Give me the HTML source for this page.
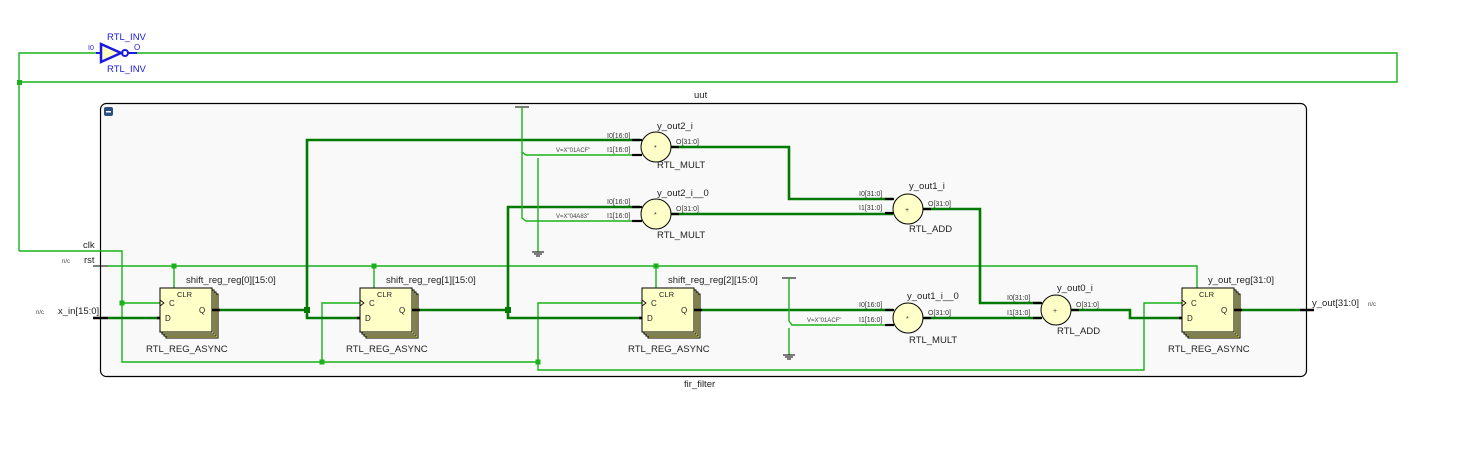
<!DOCTYPE html>
<html><head><style>
html,body{margin:0;padding:0;background:#fff;}
svg{display:block;font-family:"Liberation Sans","DejaVu Sans",sans-serif;}
.t{font-size:9.5px;fill:#222;}
.s{font-size:7px;fill:#333;}
.xs{font-size:6px;fill:#444;}
.g{stroke:#19b219;stroke-width:1.4;fill:none;}
.b{stroke:#007a00;stroke-width:2.6;fill:none;}
.c{fill:#ffffc8;stroke:#000;stroke-width:1;}
</style></head><body>
<svg width="1470" height="474" viewBox="0 0 1470 474" xmlns="http://www.w3.org/2000/svg">
<polyline class="g" points="19,251 19,53 100,53"/>
<polyline class="g" points="135,53 1397,53 1397,82 19,82"/>
<rect x="17" y="80" width="5" height="5" fill="#19b219"/>
<polygon points="101,44 101,62 121,53" fill="#ffffc0" stroke="#1a1ae0" stroke-width="2.5"/>
<circle cx="125" cy="53" r="3" fill="none" stroke="#1a1ae0" stroke-width="2"/>
<line x1="96" y1="53" x2="101" y2="53" stroke="#1a1ae0" stroke-width="2"/>
<line x1="128" y1="53" x2="137" y2="53" stroke="#1a1ae0" stroke-width="2"/>
<text x="107" y="40" font-size="9.5" fill="#1a1ae0">RTL_INV</text>
<text x="107" y="72" font-size="9.5" fill="#1a1ae0">RTL_INV</text>
<text x="88" y="50" font-size="7" fill="#1a1ae0">I0</text>
<text x="134" y="50" font-size="8" fill="#1a1ae0">O</text>
<rect x="100.5" y="103.5" width="1206" height="273" rx="6" fill="#f9f9f9" stroke="#000" stroke-width="1.2"/>
<rect x="104" y="107" width="9" height="9" rx="2" fill="#2d4f80"/>
<rect x="106" y="111" width="5" height="1.5" fill="#fff"/>
<text class="t" x="694" y="98">uut</text>
<text class="t" x="684" y="387">fir_filter</text>
<text class="t" x="83" y="248" font-size="8">clk</text>
<text class="t" x="84" y="263" font-size="8">rst</text>
<text class="xs" x="62" y="263">n/c</text>
<text class="t" x="58" y="314" font-size="8">x_in[15:0]</text>
<text class="xs" x="36" y="314">n/c</text>
<line x1="93" y1="251" x2="108" y2="251" stroke="#000" stroke-width="1"/>
<line x1="93" y1="266" x2="108" y2="266" stroke="#000" stroke-width="1"/>
<line x1="93" y1="318" x2="108" y2="318" stroke="#000" stroke-width="2.5"/>
<line x1="1300" y1="310" x2="1314" y2="310" stroke="#000" stroke-width="2.5"/>
<text class="t" x="1312" y="306" font-size="8">y_out[31:0]</text>
<text class="xs" x="1368" y="306">n/c</text>
<polyline class="g" points="19,251 122,251 122,362 538,362"/>
<polyline class="g" points="122,303 160,303"/>
<polyline class="g" points="322,362 322,303 360,303"/>
<polyline class="g" points="538,362 538,303 642,303"/>
<polyline class="g" points="538,362 538,370 1144,370 1144,303 1182,303"/>
<rect x="119.5" y="300.5" width="5" height="5" fill="#19b219"/>
<rect x="319.5" y="359.5" width="5" height="5" fill="#19b219"/>
<rect x="535.5" y="359.5" width="5" height="5" fill="#19b219"/>
<polyline class="g" points="108,266 1197,266 1197,288"/>
<line class="g" x1="174" y1="266" x2="174" y2="288"/>
<line class="g" x1="374" y1="266" x2="374" y2="288"/>
<line class="g" x1="656" y1="266" x2="656" y2="288"/>
<rect x="171.5" y="263.5" width="5" height="5" fill="#19b219"/>
<rect x="371.5" y="263.5" width="5" height="5" fill="#19b219"/>
<rect x="653.5" y="263.5" width="5" height="5" fill="#19b219"/>
<line class="b" x1="108" y1="318" x2="160" y2="318"/>
<polyline class="b" points="212,310 307,310"/>
<polyline class="b" points="640,140 307,140 307,318 360,318"/>
<polyline class="b" points="412,310 508,310"/>
<polyline class="b" points="640,207 508,207 508,318 642,318"/>
<rect x="304" y="307" width="6" height="6" fill="#007a00"/>
<rect x="505" y="307" width="6" height="6" fill="#007a00"/>
<polyline class="b" points="694,310 893,310"/>
<polyline class="b" points="671,147 789,147 789,199 893,199"/>
<polyline class="b" points="671,214 893,214"/>
<polyline class="b" points="923,209 980,209 980,303 1041,303"/>
<polyline class="b" points="923,318 1041,318"/>
<polyline class="b" points="1071,310 1130,310 1130,318 1182,318"/>
<polyline class="b" points="1234,310 1300,310"/>
<line x1="515" y1="107" x2="529" y2="107" stroke="#000" stroke-width="1"/>
<polyline class="g" points="522,107 522,152 526,155 640,155"/>
<polyline class="g" points="522,152 522,218 526,221 640,221"/>
<polyline class="g" points="538,158 538,252"/>
<line x1="532" y1="252" x2="544" y2="252" stroke="#000"/><line x1="534" y1="254" x2="542" y2="254" stroke="#000"/><line x1="536" y1="256" x2="540" y2="256" stroke="#000"/>
<text class="xs" x="556" y="152">V=X"01ACF"</text>
<text class="xs" x="556" y="218">V=X"04A83"</text>
<line x1="782" y1="278" x2="796" y2="278" stroke="#000" stroke-width="1"/>
<polyline class="g" points="789,278 789,321 792,325 893,325"/>
<polyline class="g" points="789,328 789,355"/>
<line x1="783" y1="355" x2="795" y2="355" stroke="#000"/><line x1="785" y1="357" x2="793" y2="357" stroke="#000"/><line x1="787" y1="359" x2="791" y2="359" stroke="#000"/>
<text class="xs" x="807" y="322">V=X"01ACF"</text>
<g stroke="#000" stroke-width="2.2">
<line x1="632" y1="140" x2="642" y2="140"/><line x1="632" y1="155" x2="642" y2="155"/><line x1="671" y1="147" x2="679" y2="147"/>
<line x1="632" y1="207" x2="642" y2="207"/><line x1="632" y1="221" x2="642" y2="221"/><line x1="671" y1="214" x2="679" y2="214"/>
<line x1="885" y1="199" x2="894" y2="199"/><line x1="885" y1="213" x2="894" y2="213"/><line x1="923" y1="209" x2="931" y2="209"/>
<line x1="885" y1="310" x2="894" y2="310"/><line x1="885" y1="325" x2="894" y2="325"/><line x1="923" y1="318" x2="931" y2="318"/>
<line x1="1033" y1="303" x2="1042" y2="303"/><line x1="1033" y1="318" x2="1042" y2="318"/><line x1="1071" y1="310" x2="1079" y2="310"/>
</g>
<circle class="c" cx="656" cy="147" r="15"/><text class="s" x="654" y="150">*</text>
<circle class="c" cx="656" cy="214" r="15"/><text class="s" x="654" y="217">*</text>
<circle class="c" cx="908" cy="209" r="15"/><text class="s" x="905" y="212">+</text>
<circle class="c" cx="908" cy="318" r="15"/><text class="s" x="906" y="321">*</text>
<circle class="c" cx="1056" cy="310" r="15"/><text class="s" x="1053" y="313">+</text>
<text class="t" x="657" y="129">y_out2_i</text>
<text class="s" x="607" y="138">I0[16:0]</text><text class="s" x="607" y="152">I1[16:0]</text><text class="s" x="676" y="144">O[31:0]</text>
<text class="t" x="657" y="168">RTL_MULT</text>
<text class="t" x="657" y="196">y_out2_i__0</text>
<text class="s" x="607" y="204">I0[16:0]</text><text class="s" x="607" y="218">I1[16:0]</text><text class="s" x="676" y="211">O[31:0]</text>
<text class="t" x="657" y="238">RTL_MULT</text>
<text class="t" x="909" y="189">y_out1_i</text>
<text class="s" x="859" y="196">I0[31:0]</text><text class="s" x="859" y="210">I1[31:0]</text><text class="s" x="928" y="206">O[31:0]</text>
<text class="t" x="909" y="232">RTL_ADD</text>
<text class="t" x="907" y="299">y_out1_i__0</text>
<text class="s" x="859" y="307">I0[16:0]</text><text class="s" x="859" y="322">I1[16:0]</text><text class="s" x="928" y="315">O[31:0]</text>
<text class="t" x="909" y="343">RTL_MULT</text>
<text class="t" x="1057" y="291">y_out0_i</text>
<text class="s" x="1007" y="300">I0[31:0]</text><text class="s" x="1007" y="315">I1[31:0]</text><text class="s" x="1076" y="307">O[31:0]</text>
<text class="t" x="1057" y="334">RTL_ADD</text>

<g transform="translate(160,288)">
<rect x="6" y="6" width="52" height="44" fill="#ffff80" stroke="#000" stroke-width="1"/>
<rect x="4" y="4" width="52" height="44" fill="#ffffa0" stroke="#000" stroke-width="1"/>
<rect x="2" y="2" width="52" height="44" fill="#ffffb0" stroke="#000" stroke-width="1"/>
<rect x="0" y="0" width="52" height="44" fill="#ffffc8" stroke="#000" stroke-width="1"/>
<polyline points="0,12 4,15 0,18" fill="none" stroke="#000" stroke-width="0.8"/>
<text x="17" y="9" font-size="7.5" fill="#222">CLR</text><text x="9" y="18" font-size="8" fill="#222">C</text>
<text x="5" y="33" font-size="8" fill="#222">D</text><text x="39" y="25" font-size="8" fill="#222">Q</text>
<line x1="-3" y1="30" x2="0" y2="30" stroke="#000" stroke-width="2.5"/><line x1="52" y1="22" x2="60" y2="22" stroke="#000" stroke-width="2.5"/>
</g>
<g transform="translate(360,288)">
<rect x="6" y="6" width="52" height="44" fill="#ffff80" stroke="#000" stroke-width="1"/>
<rect x="4" y="4" width="52" height="44" fill="#ffffa0" stroke="#000" stroke-width="1"/>
<rect x="2" y="2" width="52" height="44" fill="#ffffb0" stroke="#000" stroke-width="1"/>
<rect x="0" y="0" width="52" height="44" fill="#ffffc8" stroke="#000" stroke-width="1"/>
<polyline points="0,12 4,15 0,18" fill="none" stroke="#000" stroke-width="0.8"/>
<text x="17" y="9" font-size="7.5" fill="#222">CLR</text><text x="9" y="18" font-size="8" fill="#222">C</text>
<text x="5" y="33" font-size="8" fill="#222">D</text><text x="39" y="25" font-size="8" fill="#222">Q</text>
<line x1="-3" y1="30" x2="0" y2="30" stroke="#000" stroke-width="2.5"/><line x1="52" y1="22" x2="60" y2="22" stroke="#000" stroke-width="2.5"/>
</g>
<g transform="translate(642,288)">
<rect x="6" y="6" width="52" height="44" fill="#ffff80" stroke="#000" stroke-width="1"/>
<rect x="4" y="4" width="52" height="44" fill="#ffffa0" stroke="#000" stroke-width="1"/>
<rect x="2" y="2" width="52" height="44" fill="#ffffb0" stroke="#000" stroke-width="1"/>
<rect x="0" y="0" width="52" height="44" fill="#ffffc8" stroke="#000" stroke-width="1"/>
<polyline points="0,12 4,15 0,18" fill="none" stroke="#000" stroke-width="0.8"/>
<text x="17" y="9" font-size="7.5" fill="#222">CLR</text><text x="9" y="18" font-size="8" fill="#222">C</text>
<text x="5" y="33" font-size="8" fill="#222">D</text><text x="39" y="25" font-size="8" fill="#222">Q</text>
<line x1="-3" y1="30" x2="0" y2="30" stroke="#000" stroke-width="2.5"/><line x1="52" y1="22" x2="60" y2="22" stroke="#000" stroke-width="2.5"/>
</g>
<g transform="translate(1182,288)">
<rect x="6" y="6" width="52" height="44" fill="#ffff80" stroke="#000" stroke-width="1"/>
<rect x="4" y="4" width="52" height="44" fill="#ffffa0" stroke="#000" stroke-width="1"/>
<rect x="2" y="2" width="52" height="44" fill="#ffffb0" stroke="#000" stroke-width="1"/>
<rect x="0" y="0" width="52" height="44" fill="#ffffc8" stroke="#000" stroke-width="1"/>
<polyline points="0,12 4,15 0,18" fill="none" stroke="#000" stroke-width="0.8"/>
<text x="17" y="9" font-size="7.5" fill="#222">CLR</text><text x="9" y="18" font-size="8" fill="#222">C</text>
<text x="5" y="33" font-size="8" fill="#222">D</text><text x="39" y="25" font-size="8" fill="#222">Q</text>
<line x1="-3" y1="30" x2="0" y2="30" stroke="#000" stroke-width="2.5"/><line x1="52" y1="22" x2="60" y2="22" stroke="#000" stroke-width="2.5"/>
</g>
<text class="t" x="186" y="283">shift_reg_reg[0][15:0]</text>
<text class="t" x="386" y="283">shift_reg_reg[1][15:0]</text>
<text class="t" x="668" y="283">shift_reg_reg[2][15:0]</text>
<text class="t" x="1208" y="283">y_out_reg[31:0]</text>
<text class="t" x="146" y="352">RTL_REG_ASYNC</text>
<text class="t" x="346" y="352">RTL_REG_ASYNC</text>
<text class="t" x="628" y="352">RTL_REG_ASYNC</text>
<text class="t" x="1168" y="352">RTL_REG_ASYNC</text>
</svg>
</body></html>
